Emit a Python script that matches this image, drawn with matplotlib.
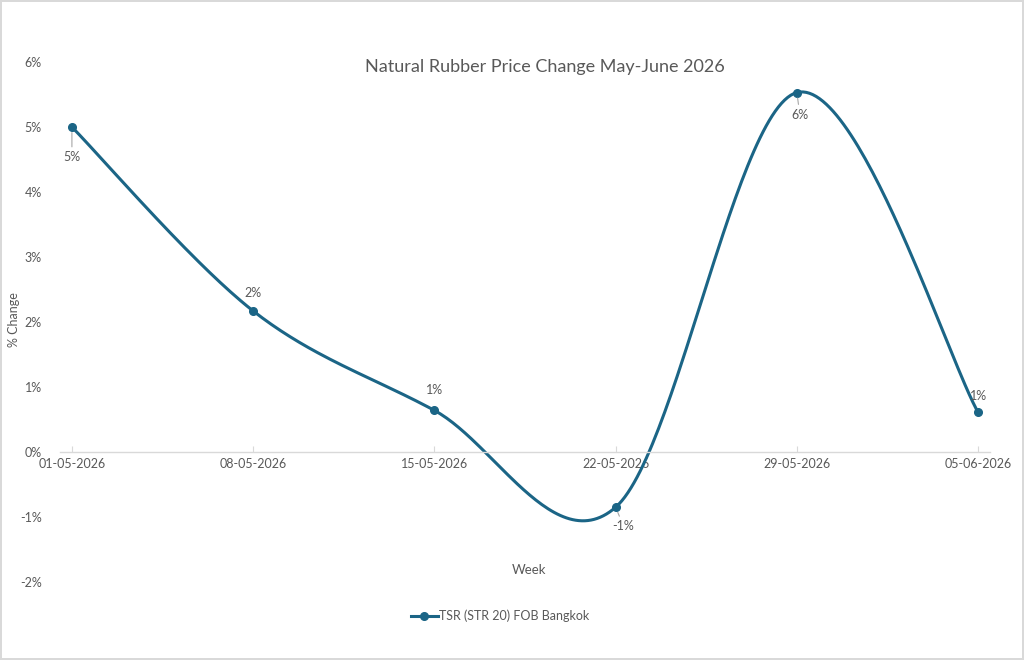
import numpy as np
import pandas as pd
import matplotlib
matplotlib.use('Agg')
import matplotlib.pyplot as plt
import matplotlib.dates as mdates
from matplotlib.lines import Line2D

# --- Data ---
weeks = ['01-05-2026', '08-05-2026', '15-05-2026', '22-05-2026', '29-05-2026', '05-06-2026']
pct_change = [5.00, 2.17, 0.64, -0.85, 5.53, 0.61]
labels = ['5%', '2%', '1%', '-1%', '6%', '1%']
series_name = 'TSR (STR 20) FOB Bangkok'

# label offsets in pixels (dx, dy) and whether a leader line is drawn
label_offsets = [(0, -30), (0, 18), (0, 20), (8, -19), (3, -22), (0, 16)]
leaders = [True, False, False, True, True, False]

COL_LINE = '#1b6586'
COL_TEXT = '#595959'
COL_AXIS = '#d9d9d9'

plt.rcParams['font.family'] = ['Lato', 'DejaVu Sans']

dates = pd.to_datetime(weeks, format='%d-%m-%Y')
x = mdates.date2num(dates.to_pydatetime())
y = np.array(pct_change)


def smooth(xs, ys, n=60):
    # Excel-style smoothed line: cubic Bezier segments with Catmull-Rom control points
    px, py = [], []
    m = len(xs)
    for i in range(m - 1):
        x0, y0 = xs[max(i - 1, 0)], ys[max(i - 1, 0)]
        x1, y1 = xs[i], ys[i]
        x2, y2 = xs[i + 1], ys[i + 1]
        x3, y3 = xs[min(i + 2, m - 1)], ys[min(i + 2, m - 1)]
        c1 = (x1 + (x2 - x0) / 6, y1 + (y2 - y0) / 6)
        c2 = (x2 - (x3 - x1) / 6, y2 - (y3 - y1) / 6)
        t = np.linspace(0, 1, n)
        bx = (1 - t)**3 * x1 + 3 * (1 - t)**2 * t * c1[0] + 3 * (1 - t) * t**2 * c2[0] + t**3 * x2
        by = (1 - t)**3 * y1 + 3 * (1 - t)**2 * t * c1[1] + 3 * (1 - t) * t**2 * c2[1] + t**3 * y2
        px.extend(bx)
        py.extend(by)
    return np.array(px), np.array(py)


fig = plt.figure(figsize=(10.24, 6.6), dpi=100)
fig.patch.set_facecolor('white')
fig.patch.set_edgecolor(COL_AXIS)
fig.patch.set_linewidth(1.5)

ax = fig.add_axes([60 / 1024, 78 / 660, 930 / 1024, 520 / 660])

sx, sy = smooth(x, y)
ax.plot(sx, sy, color=COL_LINE, linewidth=2.2, solid_capstyle='round', zorder=2)
ax.plot(x, y, 'o', color=COL_LINE, markersize=5.5, zorder=3)

for xi, yi, lab, (dx, dy), lead in zip(x, y, labels, label_offsets, leaders):
    ax.annotate(lab, (xi, yi), xytext=(dx, dy), textcoords='offset pixels',
                ha='center', va='center', fontsize=9, color=COL_TEXT, zorder=4,
                arrowprops=dict(arrowstyle='-', color='#a6a6a6', lw=0.8,
                                shrinkA=1, shrinkB=4) if lead else None)

# axes styling
pad_days = 0.46
ax.set_xlim(x[0] - pad_days, x[-1] + pad_days)
ax.set_ylim(-2, 6)
ax.set_yticks(np.arange(-2, 7, 1))
ax.yaxis.set_major_formatter(matplotlib.ticker.FuncFormatter(lambda v, p: f'{v:.0f}%'))
ax.set_xticks(x)
ax.xaxis.set_major_formatter(mdates.DateFormatter('%d-%m-%Y'))

for s in ['top', 'right', 'left']:
    ax.spines[s].set_visible(False)
ax.spines['bottom'].set_position(('data', 0))
ax.spines['bottom'].set_color(COL_AXIS)
ax.spines['bottom'].set_linewidth(1.0)

ax.tick_params(axis='y', length=0, labelsize=9, labelcolor=COL_TEXT, pad=13)
ax.tick_params(axis='x', direction='in', length=4, color=COL_AXIS, labelsize=9,
               labelcolor=COL_TEXT, pad=4)

fig.text(545 / 1024, 1 - 67 / 660, 'Natural Rubber Price Change May-June 2026',
         ha='center', va='center', fontsize=13, color=COL_TEXT)
fig.text(14 / 1024, 1 - 320 / 660, '% Change', rotation=90, ha='center', va='center',
         fontsize=9, color=COL_TEXT)
fig.text(529 / 1024, 1 - 570 / 660, 'Week', ha='center', va='center',
         fontsize=9.5, color=COL_TEXT)

handle = Line2D([0], [0], color=COL_LINE, linewidth=2.2, marker='o', markersize=5.5)
leg = fig.legend(handles=[handle], labels=[series_name], loc='center',
                 bbox_to_anchor=(500 / 1024, 1 - 616 / 660), frameon=False,
                 fontsize=9, handlelength=2.2, handletextpad=0.1)
for t in leg.get_texts():
    t.set_color(COL_TEXT)

fig.savefig('out.png', dpi=100, facecolor='white', edgecolor=fig.get_edgecolor())
